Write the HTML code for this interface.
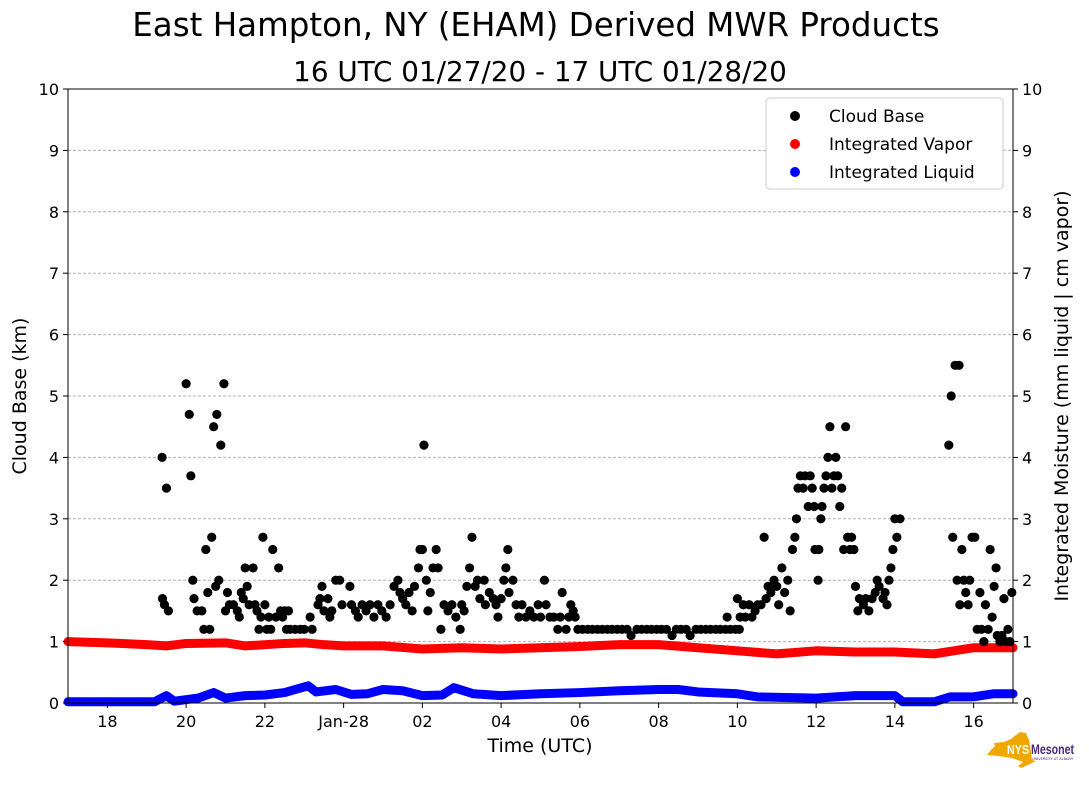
<!DOCTYPE html>
<html><head><meta charset="utf-8"><style>
body{margin:0;background:#fff;font-family:"Liberation Sans","DejaVu Sans",sans-serif}
svg text{font-family:"DejaVu Sans","Liberation Sans",sans-serif}
</style></head><body>
<svg id="chart" width="1089" height="804" viewBox="0 0 1089 804">
<text x="536" y="36" text-anchor="middle" font-size="32.5">East Hampton, NY (EHAM) Derived MWR Products</text>
<text x="540" y="81" text-anchor="middle" font-size="27.8">16 UTC 01/27/20 - 17 UTC 01/28/20</text>
<g id="grid"></g><g id="marks"></g><g id="axes"></g>
<text transform="translate(26,396) rotate(-90)" text-anchor="middle" font-size="19">Cloud Base (km)</text>
<text transform="translate(1068,396) rotate(-90)" text-anchor="middle" font-size="19">Integrated Moisture (mm liquid | cm vapor)</text>
<text x="540" y="752" text-anchor="middle" font-size="19">Time (UTC)</text>
<g>
<rect x="766" y="98" width="237" height="91" rx="4" fill="#fff" stroke="#ccc"/>
<circle cx="795" cy="116" r="5" fill="#000"/><text x="829" y="122" font-size="17">Cloud Base</text>
<circle cx="795" cy="144" r="5" fill="#f00"/><text x="829" y="150" font-size="17">Integrated Vapor</text>
<circle cx="795" cy="172" r="5" fill="#00f"/><text x="829" y="178" font-size="17">Integrated Liquid</text>
</g>
<g>
<path d="M1011,739 L1016,735 L1020,732 L1026,733 L1029,740 L1031,752 L1032,760 L1036,761 L1030,764 L1021,768 L1018,766 L1023,762 L1012,758 L998,756 L987,755 L990,751 L995,746 L994,743 L1004,742 Z" fill="#f0a800"/>
<text x="1007" y="754" font-size="13" font-weight="bold" fill="#fff" textLength="22" lengthAdjust="spacingAndGlyphs" style="font-family:'Liberation Sans',sans-serif">NYS</text>
<text x="1031" y="754" font-size="14" font-weight="bold" fill="#4b2a7a" textLength="43" lengthAdjust="spacingAndGlyphs" style="font-family:'Liberation Sans',sans-serif">Mesonet</text>
<text x="1032" y="760" font-size="3.5" fill="#4b2a7a">UNIVERSITY AT ALBANY</text>
</g>
</svg>
<script>
const cbHours=[19.39,19.5,19.4,19.45,19.55,20.0,20.08,20.12,20.17,20.2,20.28,20.4,20.45,20.5,20.55,20.6,20.65,20.7,20.75,20.78,20.83,20.88,20.96,21.0,21.05,21.1,21.2,21.3,21.35,21.4,21.45,21.5,21.55,21.6,21.7,21.75,21.8,21.85,21.9,21.95,22.0,22.05,22.1,22.15,22.2,22.28,22.35,22.4,22.45,22.5,22.55,22.6,
22.64,22.77,22.9,23.0,23.15,23.2,23.35,23.4,23.45,23.5,23.6,23.65,23.7,23.8,23.9,23.96,24.16,24.2,24.3,24.37,24.47,24.57,24.67,24.77,24.87,24.97,25.08,25.18,25.28,25.38,25.43,25.5,25.58,25.66,25.74,25.8,25.9,25.94,26.0,26.04,26.1,26.14,26.2,26.27,26.35,26.4,26.47,26.55,26.65,26.75,26.85,26.96,27.0,27.06,27.13,27.2,27.26,27.34,27.4,27.46,27.57,27.6,27.7,27.8,27.87,27.92,28.0,28.07,28.12,28.17,28.2,28.3,28.38,28.45,28.53,28.63,28.73,28.83,28.94,29.0,29.1,29.14,29.24,29.34,29.44,29.5,29.55,29.65,29.72,29.77,29.83,29.88,
29.95,30.07,30.2,30.32,30.45,30.57,30.7,30.82,30.95,31.07,31.2,31.3,31.45,31.57,31.7,31.82,31.95,32.07,32.2,32.34,32.45,32.57,32.7,32.8,32.95,33.07,33.2,33.32,33.45,33.57,33.7,33.74,33.82,33.95,34.0,34.05,
34.07,34.15,34.2,34.3,34.37,34.45,34.52,34.6,34.68,34.73,34.78,34.85,34.93,35.0,35.05,35.13,35.2,35.28,35.34,35.4,35.46,35.5,35.54,35.6,35.67,35.72,35.8,35.85,35.9,35.95,35.97,36.05,36.07,36.12,36.15,36.2,36.25,36.3,36.35,36.4,36.45,36.5,36.55,36.6,36.65,36.7,36.75,36.8,36.86,36.9,36.96,37.0,37.06,37.1,37.2,37.26,37.34,37.42,37.5,37.55,37.6,37.7,37.75,37.8,37.85,37.9,37.95,38.0,38.05,38.13,
39.37,39.43,39.47,39.53,39.58,39.63,39.65,39.7,39.75,39.8,39.86,39.9,39.96,40.03,40.09,40.16,40.2,40.26,40.3,40.37,40.42,40.47,40.52,40.57,40.6,40.67,40.72,40.77,40.82,40.87,40.92,40.97];
const cbKm=[4.0,3.5,1.7,1.6,1.5,5.2,4.7,3.7,2.0,1.7,1.5,1.5,1.2,2.5,1.8,1.2,2.7,4.5,1.9,4.7,2.0,4.2,5.2,1.5,1.8,1.6,1.6,1.5,1.4,1.8,1.7,2.2,1.9,1.6,2.2,1.6,1.5,1.2,1.4,2.7,1.6,1.2,1.4,1.2,2.5,1.4,2.2,1.5,1.4,1.5,1.2,1.5,
1.2,1.2,1.2,1.2,1.4,1.2,1.6,1.7,1.9,1.5,1.7,1.4,1.5,2.0,2.0,1.6,1.9,1.6,1.5,1.4,1.6,1.5,1.6,1.4,1.6,1.5,1.4,1.6,1.9,2.0,1.8,1.7,1.6,1.8,1.5,1.9,2.2,2.5,2.5,4.2,2.0,1.5,1.8,2.2,2.5,2.2,1.2,1.6,1.5,1.6,1.4,1.2,1.6,1.5,1.9,2.2,2.7,1.9,2.0,1.7,2.0,1.6,1.8,1.7,1.6,1.4,1.7,2.0,2.2,2.5,1.8,2.0,1.6,1.4,1.6,1.4,1.5,1.4,1.6,1.4,2.0,1.6,1.4,1.4,1.2,1.4,1.8,1.2,1.4,1.6,1.5,1.4,
1.2,1.2,1.2,1.2,1.2,1.2,1.2,1.2,1.2,1.2,1.2,1.1,1.2,1.2,1.2,1.2,1.2,1.2,1.2,1.1,1.2,1.2,1.2,1.1,1.2,1.2,1.2,1.2,1.2,1.2,1.2,1.4,1.2,1.2,1.7,1.2,
1.4,1.6,1.4,1.6,1.4,1.5,1.6,1.6,2.7,1.7,1.9,1.8,2.0,1.9,1.6,2.2,1.8,2.0,1.5,2.5,2.7,3.0,3.5,3.7,3.5,3.7,3.2,3.7,3.5,3.2,2.5,2.0,2.5,3.0,3.2,3.5,3.7,4.0,4.5,3.5,3.7,4.0,3.7,3.2,3.5,2.5,4.5,2.7,2.5,2.7,2.5,1.9,1.5,1.7,1.6,1.7,1.5,1.7,1.8,2.0,1.9,1.7,1.8,1.6,2.0,2.2,2.5,3.0,2.7,3.0,
4.2,5.0,2.7,5.5,2.0,5.5,1.6,2.5,2.0,1.8,1.6,2.0,2.7,2.7,1.2,1.8,1.2,1.0,1.6,1.2,2.5,1.4,1.9,2.2,1.1,1.0,1.1,1.7,1.0,1.2,1.0,1.8];
const vapHours=[17,18,19,19.5,20,21,21.5,22.5,23,23.5,24,25,26,27,28,29,30,31,32,33,34,35,36,37,38,39,39.5,40,41];
const vapVals=[1.0,0.98,0.95,0.93,0.97,0.98,0.93,0.97,0.98,0.95,0.93,0.93,0.88,0.9,0.88,0.9,0.92,0.95,0.95,0.9,0.85,0.8,0.85,0.83,0.83,0.8,0.85,0.9,0.9];
const liqHours=[17,19.2,19.5,19.7,20.3,20.7,21,21.5,22,22.5,23.1,23.3,23.8,24.2,24.6,25,25.5,26,26.5,26.8,27.3,28,29,30,31,32,32.5,33,34,34.5,36,37,38,38.2,39,39.4,40,40.5,41];
const liqVals=[0.02,0.02,0.12,0.03,0.08,0.17,0.08,0.12,0.13,0.17,0.28,0.18,0.22,0.14,0.15,0.22,0.2,0.12,0.13,0.25,0.15,0.12,0.15,0.17,0.2,0.22,0.22,0.18,0.15,0.1,0.08,0.12,0.12,0.02,0.02,0.1,0.1,0.15,0.15];
const xTickHours=[18,20,22,24,26,28,30,32,34,36,38,40];
const xTickLabels=["18","20","22","Jan-28","02","04","06","08","10","12","14","16"];
const yTicks=[0,1,2,3,4,5,6,7,8,9,10];

const L=68,R=1013,T=89,B=703,H0=17,H1=41;
const X=h=>L+(h-H0)/(H1-H0)*(R-L);
const Y=v=>B-v/10*(B-T);
const NS="http://www.w3.org/2000/svg";
function mk(tag,parent,attrs){const e=document.createElementNS(NS,tag);for(const k in attrs)e.setAttribute(k,attrs[k]);parent.appendChild(e);return e;}
const grid=document.getElementById('grid'),marks=document.getElementById('marks'),axes=document.getElementById('axes');
yTicks.forEach(v=>{
  if(v>0&&v<10){const g=mk('line',grid,{x1:L,x2:R,y1:Y(v),y2:Y(v),stroke:'#b0b0b0','stroke-dasharray':'3,2'});
  
  }
  mk('line',axes,{x1:L-5,x2:L,y1:Y(v),y2:Y(v),stroke:'#000'});
  mk('line',axes,{x1:R,x2:R+5,y1:Y(v),y2:Y(v),stroke:'#000'});
  const t=mk('text',axes,{x:L-9,y:Y(v)+6,'text-anchor':'end','font-size':16});t.textContent=v;
  
  
  const t2=mk('text',axes,{x:R+9,y:Y(v)+6,'font-size':16});t2.textContent=v;
  
  
});
xTickHours.forEach((h,i)=>{
  mk('line',axes,{x1:X(h),x2:X(h),y1:B,y2:B+5,stroke:'#000'});
  const t=mk('text',axes,{x:X(h),y:B+24,'text-anchor':'middle','font-size':16});t.textContent=xTickLabels[i];
  
  
});
const frame=mk('rect',axes,{x:L,y:T,width:R-L,height:B-T,fill:'none',stroke:'#000'});


function line(hs,vs,color,name){
  const p=mk('polyline',marks,{points:hs.map((h,i)=>X(h)+','+Y(vs[i])).join(' '),fill:'none',stroke:color,'stroke-width':9,'stroke-linecap':'round','stroke-linejoin':'round'});
  
  
}
line(vapHours,vapVals,'#f00','integrated-vapor-series');
line(liqHours,liqVals,'#00f','integrated-liquid-series');
cbHours.forEach((h,i)=>{
  const c=mk('circle',marks,{cx:X(h),cy:Y(cbKm[i]),r:4.6,fill:'#000'});
  
  
});
</script>
</body></html>
